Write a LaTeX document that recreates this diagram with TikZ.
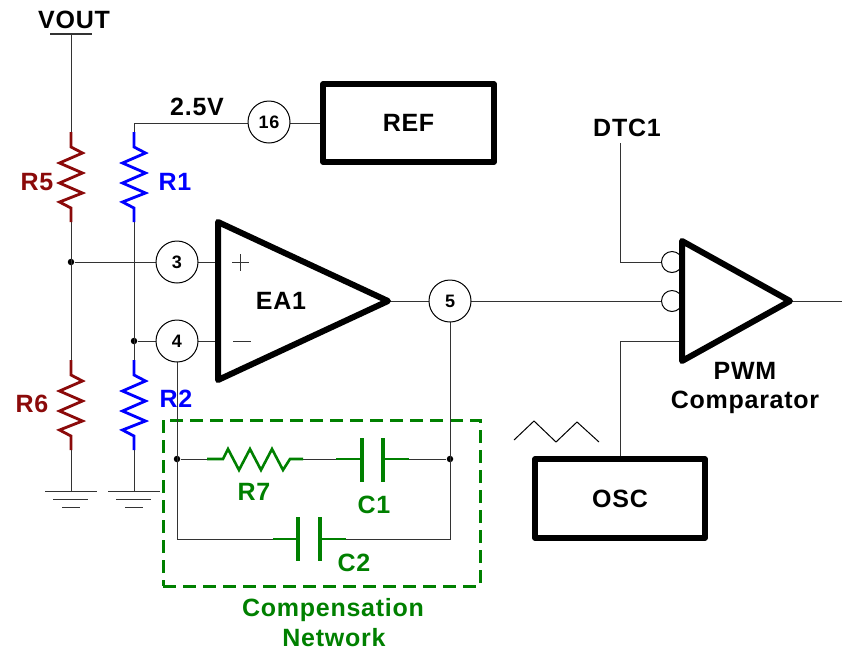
\documentclass[tikz,border=0pt]{standalone}
\usepackage{fontspec}
\setmainfont[LetterSpace=3]{Liberation Sans}
\usepackage{tikz}
\usetikzlibrary{positioning}
\definecolor{rdark}{HTML}{8B0A0A}
\definecolor{rblue}{HTML}{0000FF}
\definecolor{cgreen}{HTML}{008000}
\tikzset{
res/.style={to path={(\tikztostart) -- ++(0,15) -- ++(11.5,6) -- ++(-23,10) -- ++(23,10) -- ++(-23,10) -- ++(23,10) -- ++(-23,9) -- ++(11.5,6) -- (\tikztotarget)}},
resh/.style={to path={(\tikztostart) -- ++(16,0) -- ++(5,-10) -- ++(11,21) -- ++(11,-21) -- ++(11,21) -- ++(11,-21) -- ++(11,21) -- ++(7,-11) -- (\tikztotarget)}},
}
\begin{document}
\begin{tikzpicture}[x=1pt,y=-1pt,line width=1pt,font=\bfseries\fontsize{25}{25}\selectfont]
\tikzstyle{every node}=[inner sep=0pt]
\tikzstyle{pin}=[circle,draw=black,fill=white,line width=1pt,minimum size=42pt,font=\bfseries\fontsize{18}{18}\selectfont]
\tikzstyle{bubble}=[circle,draw=black,fill=white,line width=1pt,minimum size=21pt]
\tikzstyle{dot}=[circle,fill=black,minimum size=6.5pt]
\tikzstyle{block}=[rectangle,draw=black,line width=5.5pt,line join=round]
\tikzstyle{wire}=[draw=black!80]
\tikzstyle{amp}=[draw=black,line width=6pt,line join=round]
\tikzstyle{plate}=[draw=cgreen,line width=4pt]
\tikzstyle{lead}=[draw=cgreen,line width=2.6pt]
\useasboundingbox (0,0) rectangle (842,649);
% compensation box
\node[rectangle,draw=cgreen,line width=3pt,dash pattern=on 13pt off 7pt,minimum width=317pt,minimum height=166pt] (comp) at (321.5,503) {};
% end points
\coordinate (vbar1) at (50,34);
\coordinate (vbar2) at (92,34);
\coordinate (vtop) at (71,34);
\coordinate (r5a) at (71,132);
\coordinate (r5b) at (71,222);
\coordinate (r6a) at (71,360);
\coordinate (r6b) at (71,450);
\coordinate (g1) at (71,491);
\coordinate (r1t) at (134,123);
\coordinate (r1a) at (134,132);
\coordinate (r1b) at (134,222);
\coordinate (r2a) at (134,360);
\coordinate (r2b) at (134,450);
\coordinate (g2) at (134,491);
\coordinate (in3) at (218,262);
\coordinate (in4) at (218,341);
\coordinate (eaout) at (388,301);
\coordinate (pwmin) at (682,341);
\coordinate (pwmout) at (790,301);
\coordinate (out) at (842,301);
\coordinate (dtct) at (620,143);
\coordinate (dtcb) at (620,262);
\coordinate (oscb) at (620,341);
\coordinate (nw) at (177,539);
\coordinate (ne) at (450,539);
\coordinate (r7a) at (207,459);
\coordinate (r7b) at (303,459);
\coordinate (c1a) at (336,459);
\coordinate (c1p) at (362,459);
\coordinate (c1q) at (383,459);
\coordinate (c1b) at (409,459);
\coordinate (c2a) at (273,539);
\coordinate (c2p) at (298,539);
\coordinate (c2q) at (320,539);
\coordinate (c2b) at (346,539);
% nodes
\node[dot] (j1) at (71,262) {};
\node[dot] (j2) at (134,341) {};
\node[dot] (j3) at (177,459) {};
\node[dot] (j4) at (450,459) {};
\node[block,minimum width=171pt,minimum height=78pt] (ref) at (408.5,123) {REF};
\node[block,minimum width=170pt,minimum height=79pt] (osc) at (620,498.5) {OSC};
% wires
\draw[wire] (vtop) -- (r5a) (r5b) -- (r6a) (r6b) -- (g1);
\draw[wire] (r1t) -- (r1a) (r1b) -- (r2a) (r2b) -- (g2);
\draw[wire] (j1) -- (in3);
\draw[wire] (j2) -- (in4);
\draw[wire] (r1t) -- (ref.west);
\draw[wire] (eaout) -- (682,301);
\draw[wire] (in4 -| nw) -- (nw) -- (c2a);
\draw[wire] (c2b) -- (ne) -- (450,301);
\draw[wire] (j3) -- (r7a) (r7b) -- (c1a) (c1b) -- (j4);
\draw[wire] (dtct) -- (dtcb) -- (682,262);
\draw[wire] (osc.north) -- (oscb) -- (pwmin);
\draw[wire] (pwmout) -- (out);
\draw[wire,line width=1.5pt] (vbar1) -- (vbar2);
% resistors
\draw[rdark,line width=2.8pt] (r5a) to[res] (r5b);
\draw[rdark,line width=2.8pt] (r6a) to[res] (r6b);
\draw[rblue,line width=2.8pt] (r1a) to[res] (r1b);
\draw[rblue,line width=2.8pt] (r2a) to[res] (r2b);
\draw[cgreen,line width=2.6pt] (r7a) to[resh] (r7b);
% capacitors
\draw[lead] (c1a) -- (c1p) (c1q) -- (c1b) (c2a) -- (c2p) (c2q) -- (c2b);
\draw[plate] (362,438) -- (362,482) (383,438) -- (383,482);
\draw[plate] (298,517) -- (298,561) (320,517) -- (320,561);
% ground
\foreach \gx in {71,134} {
\draw[wire] (\gx-26,491) -- (\gx+26,491);
\draw[wire] (\gx-18,499) -- (\gx+17,499);
\draw[wire] (\gx-9,507) -- (\gx+9,507);
}
% pins
\node[pin] (p16) at (269,122) {16};
\node[pin] (p3) at (177,262) {3};
\node[pin] (p4) at (177,341) {4};
\node[pin] (p5) at (450,301) {5};
% amplifiers
\node[bubble] (b1) at (672,262) {};
\node[bubble] (b2) at (672,301) {};
\draw[amp,fill=white] (218,222) -- (eaout) -- (218,380) -- cycle;
\draw[amp,fill=white] (682,241) -- (pwmout) -- (682,361) -- cycle;
\draw[wire] (232,262) -- (249,262) (240,254) -- (240,271) (233,341) -- (251,341);
\draw[black] (514,440) -- (534,421) -- (556,442) -- (577,422) -- (599,442);
% labels
\node (vout) at (74,20) {VOUT};
\node (volt) at (197,107) {2.5V};
\node[text=rdark] (lr5) at (37,182) {R5};
\node[text=rdark] (lr6) at (32,404) {R6};
\node[text=rblue] (lr1) at (175,182) {R1};
\node[text=rblue] (lr2) at (176,399) {R2};
\node (ea) at (281,301) {EA1};
\node (dtc) at (627,128) {DTC1};
\node (pwm) at (745,371) {PWM};
\node (cmp) at (745,402) {Comparator};
\node[text=cgreen] (lr7) at (254,492) {R7};
\node[text=cgreen] (lc1) at (374,505) {C1};
\node[text=cgreen] (lc2) at (354,563) {C2};
\node[text=cgreen] (lcomp) at (333,610) {Compensation};
\node[text=cgreen] (lnet) at (334,638) {Network};
\end{tikzpicture}
\end{document}
